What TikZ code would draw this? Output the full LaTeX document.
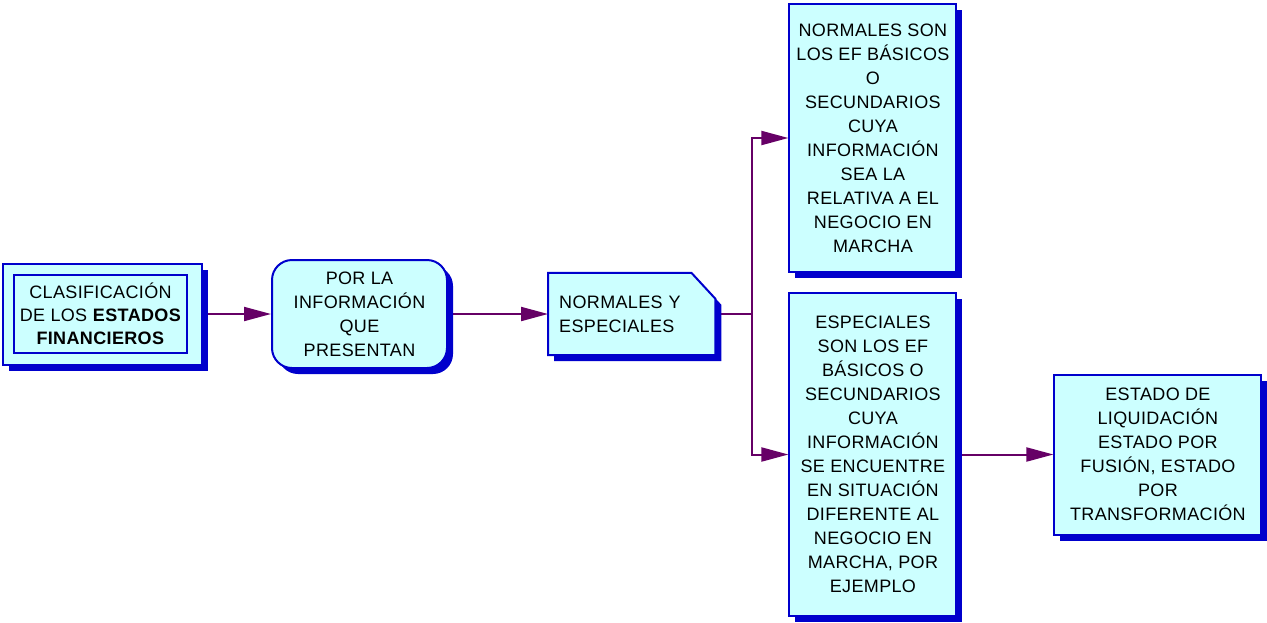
\documentclass[tikz,border=0pt]{standalone}
\usepackage{fontspec}
\setmainfont{Liberation Sans}[LetterSpace=2]
\usetikzlibrary{positioning,shadows,arrows.meta,backgrounds}
\definecolor{boxfill}{RGB}{204,255,255}
\definecolor{boxline}{RGB}{0,0,204}
\definecolor{linkcol}{RGB}{102,0,102}
\tikzstyle{boxshape} = [draw=boxline, line width=2pt, fill=boxfill, drop shadow={opacity=1, fill=boxline, shadow xshift=6pt, shadow yshift=-6pt}]
\tikzstyle{infobox} = [rectangle, minimum width=167pt, text centered, align=center, boxshape, font=\fontsize{18}{24}\selectfont]
\tikzstyle{innerbox} = [rectangle, minimum width=173pt, minimum height=78pt, align=center, draw=boxline, line width=2pt, font=\fontsize{18}{23}\selectfont]
\tikzstyle{plainbox} = [rectangle, minimum width=167pt, align=left, font=\fontsize{18}{24}\selectfont]
\tikzstyle{link} = [line width=2pt, draw=linkcol]
\tikzstyle{arrow} = [link, -{Triangle[length=27pt,width=14pt,fill=linkcol]}]

\begin{document}
\begin{tikzpicture}[node distance=68pt]
\useasboundingbox (0pt,0pt) rectangle (1267pt,-622pt);
\node (clasif) [infobox, minimum width=199pt, minimum height=101pt] at (102.5pt,-314pt) {};
\node (clasiftxt) [innerbox, xshift=-2pt] at (clasif) {CLASIFICACIÓN\\DE LOS \textbf{ESTADOS}\\\textbf{FINANCIEROS}};
\node (porinfo) [infobox, rounded corners=20pt, minimum width=175pt, minimum height=108pt, right = of clasif] {POR LA\\INFORMACIÓN\\QUE\\PRESENTAN};
\node (normesp) [plainbox, minimum height=82pt, text width=145pt, right = 100pt of porinfo] {NORMALES Y\\ESPECIALES};
\node (especiales) [infobox, minimum height=323pt, right = 73pt of normesp, yshift=-140.5pt] {ESPECIALES\\SON LOS EF\\BÁSICOS O\\SECUNDARIOS\\CUYA\\INFORMACIÓN\\SE ENCUENTRE\\EN SITUACIÓN\\DIFERENTE AL\\NEGOCIO EN\\MARCHA, POR\\EJEMPLO};
\node (normales) [infobox, minimum height=268pt, above = 19pt of especiales] {NORMALES SON\\LOS EF BÁSICOS\\O\\SECUNDARIOS\\CUYA\\INFORMACIÓN\\SEA LA\\RELATIVA A EL\\NEGOCIO EN\\MARCHA};
\node (tipos) [infobox, minimum width=207pt, minimum height=160pt, right = 96pt of especiales] {ESTADO DE\\LIQUIDACIÓN\\ESTADO POR\\FUSIÓN, ESTADO\\POR\\TRANSFORMACIÓN};
\coordinate (split) at ([xshift=37pt]normesp.east);
\begin{scope}[on background layer]
% folded sheet behind the text of normesp
\draw [link] (normesp.east) -- (split);
\path [boxshape] (normesp.south west) -- (normesp.north west) -- ([xshift=-24pt]normesp.north east)
  -- ([yshift=-26pt]normesp.north east) -- (normesp.south east) -- cycle;
\draw [arrow] (clasif) -- (porinfo);
\draw [arrow] (porinfo) -- (normesp);
\draw [arrow] (split) |- (normales.west);
\draw [arrow] (split) |- (especiales.west);
\draw [arrow] (especiales) -- (tipos);
\end{scope}
\end{tikzpicture}
\end{document}
